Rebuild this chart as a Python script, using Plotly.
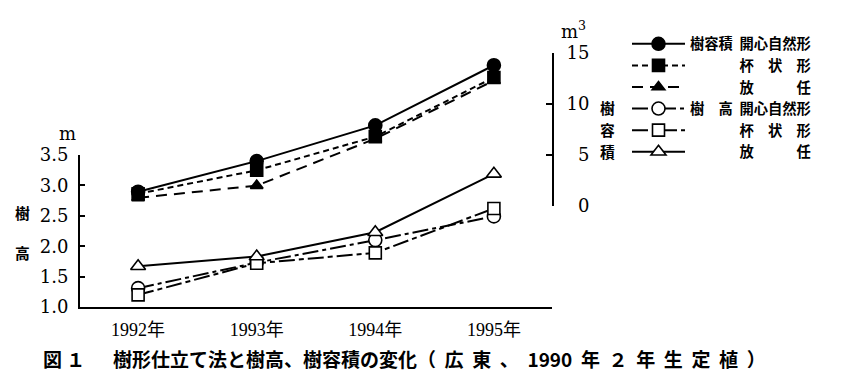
import plotly.graph_objects as go

years = ["1992年", "1993年", "1994年", "1995年"]

# 樹容積 (m3) – right axis
vol_kaishin = [1.4, 4.4, 7.9, 13.8]
vol_haijou = [1.2, 3.5, 6.8, 12.6]
vol_hounin = [0.8, 2.0, 6.6, 12.3]

# 樹高 (m) – left axis
h_kaishin = [1.31, 1.73, 2.10, 2.49]
h_haijou = [1.20, 1.72, 1.89, 2.62]
h_hounin = [1.67, 1.83, 2.23, 3.19]

left_ticks = [1.0, 1.5, 2.0, 2.5, 3.0, 3.5]
left_ticktext = ["1.0", "1.5", "2.0", "2.5", "3.0", "3.5"]
right_ticks = [0, 5, 10, 15]
right_ticktext = ["\u20070", "\u20075", "10", "15"]

G = "\u00a0\u00a0"
names = [
    "樹容積" + G + "開心自然形",
    "\u3000\u3000\u3000" + G + "杯\u3000状\u3000形",
    "\u3000\u3000\u3000" + G + "放\u3000\u3000\u3000任",
    "樹\u3000高" + G + "開心自然形",
    "\u3000\u3000\u3000" + G + "杯\u3000状\u3000形",
    "\u3000\u3000\u3000" + G + "放\u3000\u3000\u3000任",
]

BLK = "black"
series = [
    (vol_kaishin, "y2", "solid", "circle", 13, BLK),
    (vol_haijou, "y2", "6px,4px", "square", 12, BLK),
    (vol_hounin, "y2", "11px,7px", "triangle-up", 11, BLK),
    (h_kaishin, "y", "16px,4px,4px,4px", "circle", 13, "white"),
    (h_haijou, "y", "16px,4px,5px,4px", "square", 12, "white"),
    (h_hounin, "y", "solid", "triangle-up", 13, "white"),
]

fig = go.Figure()
for i, (vals, ax, dash, sym, sz, fill) in enumerate(series):
    fig.add_trace(go.Scatter(
        x=years, y=vals, yaxis=ax, name=names[i], legendgroup=f"g{i}",
        mode="lines+markers", cliponaxis=False,
        line=dict(color=BLK, width=2, dash=dash),
        marker=dict(symbol=sym, size=sz, color=fill,
                    line=dict(color=BLK, width=1.6)),
    ))

num_font = dict(family="DejaVu Serif, Liberation Serif, serif", size=18, color=BLK)
jp = "Noto Sans CJK JP, sans-serif"
jpb = dict(family=jp, size=14.8, color=BLK, weight="bold")

# the page body adds an 8px offset; work in reference-pixel coordinates
OFF = 8
W, H = 850 - 2 * OFF, 384 - 2 * OFF
PL, PR, PT, PB = 80 - OFF, 552 - OFF, 53 - OFF, 307 - OFF
PW, PH = PR - PL, PB - PT


def px(x):
    return (x - OFF - PL) / PW


def py(y):
    return (PB - (y - OFF)) / PH


fig.update_layout(
    width=W, height=H,
    margin=dict(l=PL, r=W - PR, t=PT, b=H - PB, autoexpand=False),
    paper_bgcolor="white", plot_bgcolor="rgba(0,0,0,0)",
    showlegend=True,
    legend=dict(x=px(627), y=py(28), xanchor="left", yanchor="top",
                font=dict(family=jp, size=14.3, color=BLK, weight="bold"),
                itemwidth=53, tracegroupgap=0, bgcolor="rgba(0,0,0,0)",
                traceorder="normal", itemclick=False),
    xaxis=dict(type="category", range=[-0.49, 3.49], showline=True, linecolor=BLK,
               linewidth=2, ticks="", showgrid=False, zeroline=False, automargin=False,
               tickfont=dict(family="Liberation Serif, " + jp, size=18, color=BLK),
               ticklabelstandoff=5),
    yaxis=dict(domain=[0, py(155)], range=[1.0, 3.5], tickvals=left_ticks,
               ticktext=left_ticktext, showline=True, linecolor=BLK, linewidth=2,
               ticks="inside", ticklen=5, tickcolor=BLK, tickwidth=2, showgrid=False,
               zeroline=False, tickfont=num_font, ticklabelstandoff=6, automargin=False),
    yaxis2=dict(domain=[py(206), 1], range=[0, 15], tickvals=right_ticks,
                ticktext=right_ticktext, side="right", anchor="x", showline=True,
                linecolor=BLK, linewidth=2, ticks="inside", ticklen=6, tickcolor=BLK,
                tickwidth=2, showgrid=False, zeroline=False, tickfont=num_font,
                ticklabelstandoff=9, automargin=False),
)

anns = [
    dict(text="m", x=67, y=133),
    dict(text="樹", x=22, y=212, font=jpb),
    dict(text="高", x=22, y=253, font=jpb),
    dict(text="m<sup>3</sup>", x=573, y=30),
    dict(text="樹", x=607, y=107.5, font=jpb),
    dict(text="容", x=607, y=129.5, font=jpb),
    dict(text="積", x=607, y=151.5, font=jpb),
]
for a in anns:
    fig.add_annotation(
        text=a["text"], xref="paper", yref="paper",
        x=px(a["x"]), y=py(a["y"]),
        xanchor="center", yanchor="middle", showarrow=False,
        font=a.get("font", num_font), borderpad=0,
    )

cap_head = "図\u00a0１\u3000\u00a0\u00a0樹形仕立て法と樹高、樹容積の変化"
cap_tail = "\u00a0\u00a0".join(["（", "広", "東", "、", "1990", "年", "２", "年", "生", "定", "植", "）"])
fig.add_annotation(
    text=cap_head + cap_tail,
    xref="paper", yref="paper", x=px(41), y=py(358),
    xanchor="left", yanchor="middle", showarrow=False,
    font=dict(family=jp, size=19, color=BLK, weight="bold"),
)

fig.write_html("out.html")
